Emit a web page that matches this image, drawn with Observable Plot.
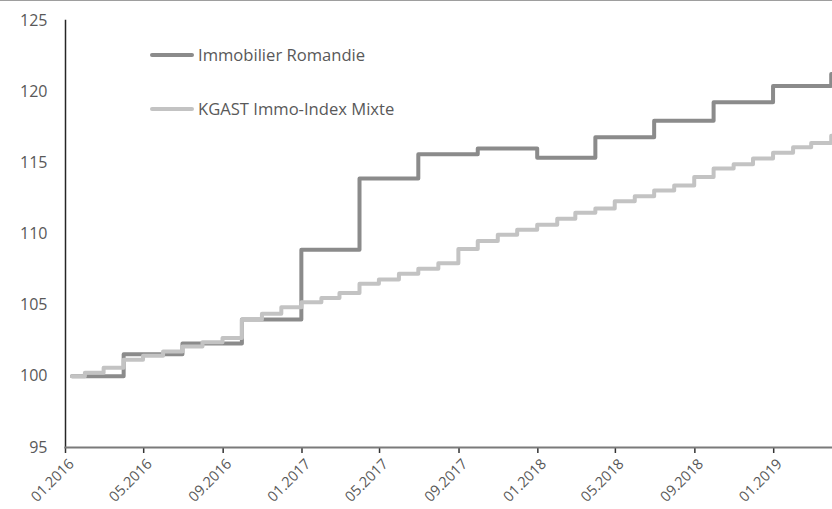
<!DOCTYPE html>
<html>
<head>
<meta charset="utf-8">
<script src="https://cdn.jsdelivr.net/npm/d3@7"></script>
<script src="https://cdn.jsdelivr.net/npm/@observablehq/plot@0.6"></script>
<style>
  html, body { margin: 0; padding: 0; background: #fff; }
  #wrap { position: relative; width: 832px; height: 508px; border-top: 1px solid #9e9e9e; overflow: hidden; }
  .legend { position: absolute; left: 150px; font-family: "Open Sans", sans-serif; font-size: 16.6px; color: #595959; display: flex; align-items: center; white-space: nowrap; }
  .legend .sw { width: 44px; height: 4px; border-radius: 2px; margin-right: 4px; }
</style>
</head>
<body>
<div id="wrap"></div>
<script>
// Immobilier Romandie (quarterly index levels, step dates)
const romDates = ["2016-01-11","2016-03-31","2016-06-30","2016-09-30","2016-12-31","2017-03-31","2017-06-30","2017-09-30","2017-12-31","2018-03-31","2018-06-30","2018-09-30","2018-12-31","2019-03-31","2019-04-03"];
const romValues = [100.0,101.55,102.3,104.0,108.9,113.9,115.6,116.0,115.35,116.8,117.95,119.25,120.4,121.25,121.25];

// KGAST Immo-Index Mixte (monthly index levels, step dates)
const kgDates = ["2016-01-11","2016-01-31","2016-02-29","2016-03-31","2016-04-30","2016-05-31","2016-06-30","2016-07-31","2016-08-31","2016-09-30","2016-10-31","2016-11-30","2016-12-31",
  "2017-01-31","2017-02-28","2017-03-31","2017-04-30","2017-05-31","2017-06-30","2017-07-31","2017-08-31","2017-09-30","2017-10-31","2017-11-30","2017-12-31",
  "2018-01-31","2018-02-28","2018-03-31","2018-04-30","2018-05-31","2018-06-30","2018-07-31","2018-08-31","2018-09-30","2018-10-31","2018-11-30","2018-12-31",
  "2019-01-31","2019-02-28","2019-03-31","2019-04-03"];
const kgValues = [100.0,100.25,100.6,101.17,101.45,101.75,102.1,102.4,102.7,104.0,104.4,104.85,105.2,
  105.5,105.85,106.5,106.8,107.2,107.55,107.95,108.95,109.5,109.95,110.3,110.65,
  111.07,111.5,111.8,112.3,112.65,113.05,113.4,114.0,114.6,114.9,115.3,115.7,
  116.1,116.4,116.9,116.9];

const seriesNames = ["Immobilier Romandie", "KGAST Immo-Index Mixte"];
const seriesColors = ["#8b8b8b", "#c3c3c3"];
const yTicks = [95,100,105,110,115,120,125];
const xDomain = ["2016-01-01","2019-04-02"];

const parse = d3.utcParse("%Y-%m-%d");
const rom = romDates.map((d, i) => ({date: parse(d), value: romValues[i]}));
const kg = kgDates.map((d, i) => ({date: parse(d), value: kgValues[i]}));
const xTickEvery = d3.utcMonth.every(4);

const chart = Plot.plot({
  width: 832,
  height: 508,
  marginLeft: 65,
  marginRight: 0,
  marginTop: 19,
  marginBottom: 62,
  style: {fontFamily: "Open Sans, sans-serif", color: "#595959", background: "#fff"},
  x: {type: "utc", domain: xDomain.map(parse)},
  y: {domain: [95, 125]},
  marks: [
    Plot.line(rom, {x: "date", y: "value", curve: "step-after", stroke: seriesColors[0], strokeWidth: 4, clip: true}),
    Plot.line(kg, {x: "date", y: "value", curve: "step-after", stroke: seriesColors[1], strokeWidth: 4, clip: true}),
    Plot.axisY({ticks: yTicks, tickSize: 0, tickPadding: 18, fontSize: 16, fill: "#595959", label: null}),
    Plot.axisX({ticks: xTickEvery, tickSize: 6, tickFormat: () => "", stroke: "#333", strokeWidth: 1.5, label: null}),
    Plot.axisX({ticks: xTickEvery, tickSize: 0, tickFormat: d3.utcFormat("%m.%Y"), tickRotate: -45, tickPadding: 14, fontSize: 14.5, fill: "#595959", label: null, dx: 6}),
    Plot.frame({anchor: "left", stroke: "#262626", strokeWidth: 1.5}),
    Plot.frame({anchor: "bottom", stroke: "#7a7a7a", strokeWidth: 2})
  ]
});

const wrap = document.getElementById("wrap");
wrap.appendChild(chart);

const legendTops = [42, 96];
seriesNames.forEach((name, i) => {
  const el = document.createElement("div");
  el.className = "legend";
  el.style.top = legendTops[i] + "px";
  el.innerHTML = `<span class="sw" style="background:${seriesColors[i]}"></span><span>${name}</span>`;
  wrap.appendChild(el);
});
</script>
</body>
</html>
